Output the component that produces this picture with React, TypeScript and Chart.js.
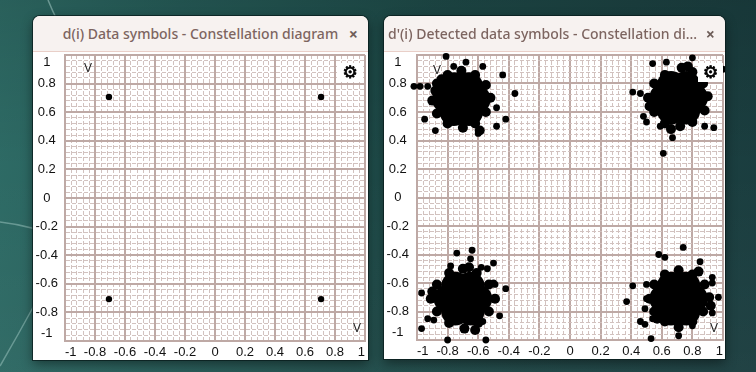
import React, { useEffect, useRef } from 'react';
import { Chart, registerables } from 'chart.js';

Chart.register(...registerables);

// ---- axis ticks (labelled every 0.2, fine grid every 0.04) ----
const TICK_VALUES = [-1, -0.8, -0.6, -0.4, -0.2, 0, 0.2, 0.4, 0.6, 0.8, 1];
const MINOR_STEP = 0.04;

// ---- d(i): transmitted data symbols ----
const sentSymbols: number[][] = [
  [-0.707, 0.707], [0.707, 0.707], [-0.707, -0.707], [0.707, -0.707],
];

// ---- d'(i): detected symbols, dense cores of the four clouds ----
const cloudCores: number[][] = [
  [-0.71, 0.69], [-0.61, 0.69], [-0.66, 0.78], [-0.76, 0.78], [-0.81, 0.69], [-0.76, 0.60], [-0.66, 0.60],
  [0.71, 0.70], [0.81, 0.70], [0.76, 0.79], [0.66, 0.79], [0.61, 0.70], [0.66, 0.61], [0.76, 0.61],
  [-0.70, -0.71], [-0.60, -0.71], [-0.65, -0.62], [-0.75, -0.62], [-0.80, -0.71], [-0.75, -0.80], [-0.65, -0.80],
  [0.71, -0.71], [0.81, -0.71], [0.76, -0.62], [0.66, -0.62], [0.61, -0.71], [0.66, -0.80], [0.76, -0.80],
];

// ---- d'(i): ragged rims of the clouds ----
const cloudRims: number[][] = [
  [-0.52, 0.70], [-0.55, 0.79], [-0.62, 0.86], [-0.71, 0.89], [-0.80, 0.86], [-0.87, 0.80],
  [-0.90, 0.68], [-0.87, 0.59], [-0.80, 0.52], [-0.70, 0.49], [-0.62, 0.52], [-0.55, 0.60],
  [-0.88, 0.75], [-0.59, 0.47], [-0.84, 0.83],
  [0.90, 0.71], [0.87, 0.80], [0.80, 0.88], [0.73, 0.91], [0.62, 0.86], [0.55, 0.80],
  [0.51, 0.70], [0.55, 0.60], [0.62, 0.52], [0.72, 0.50], [0.80, 0.53], [0.88, 0.61],
  [0.77, 0.92], [0.52, 0.64], [0.66, 0.48],
  [-0.49, -0.71], [-0.53, -0.61], [-0.61, -0.53], [-0.70, -0.50], [-0.79, -0.53], [-0.87, -0.61],
  [-0.91, -0.71], [-0.87, -0.80], [-0.79, -0.88], [-0.69, -0.92], [-0.60, -0.88], [-0.53, -0.80],
  [-0.62, -0.93], [-0.90, -0.66], [-0.66, -0.49],
  [0.91, -0.70], [0.88, -0.61], [0.80, -0.54], [0.71, -0.51], [0.62, -0.54], [0.55, -0.61],
  [0.52, -0.71], [0.55, -0.80], [0.62, -0.87], [0.71, -0.91], [0.80, -0.87], [0.87, -0.80],
  [0.92, -0.76], [0.57, -0.85], [0.84, -0.52],
];

// ---- d'(i): scattered outliers ----
const cloudOutliers: number[][] = [
  [-0.81, 0.99], [-0.76, 0.92], [-0.68, 0.95], [-0.57, 0.92], [-0.44, 0.86], [-0.36, 0.73],
  [-0.48, 0.63], [-0.42, 0.55], [-0.48, 0.50], [-1.02, 0.78], [-0.98, 0.78], [-0.93, 0.78],
  [-1.03, 0.62], [-1.03, 0.53], [-0.95, 0.55], [-0.88, 0.47], [-0.60, 0.45],
  [0.80, 0.98], [0.54, 0.94], [0.63, 0.95], [1.00, 0.90], [0.41, 0.74], [0.46, 0.73],
  [0.48, 0.57], [0.50, 0.53], [0.59, 0.50], [0.67, 0.42], [0.61, 0.31], [0.88, 0.50], [0.94, 0.49],
  [-0.74, -0.39], [-0.64, -0.37], [-0.65, -0.43], [-0.78, -0.48], [-0.58, -0.49], [-0.54, -0.50],
  [-0.50, -0.46], [-0.50, -0.60], [-0.42, -0.64], [-0.49, -0.61], [-0.97, -0.67], [-0.46, -0.83],
  [-0.57, -0.87], [-0.93, -0.85], [-0.89, -0.86], [-1.08, -0.90], [-0.97, -0.92], [-0.80, -1.00],
  [-0.55, -1.00], [-1.00, -1.06], [-0.95, -1.05],
  [0.41, -0.62], [0.50, -0.61], [0.37, -0.73], [0.50, -0.71], [0.49, -0.78], [0.46, -0.87],
  [0.49, -0.89], [0.54, -0.85], [0.53, -0.99], [0.71, -0.97], [0.80, -0.90], [0.93, -0.81],
  [0.97, -0.70], [0.93, -0.60], [0.58, -0.40], [0.62, -0.42], [0.74, -0.35], [0.85, -0.45], [0.93, -0.56],
];

const toXY = (pts: number[][]) => pts.map(([x, y]) => ({ x, y }));

const MAJOR = '#bea9a5';
const MINOR = '#d2c2bf';
const TICK_FONT = { family: '"Liberation Sans", Arial, sans-serif', size: 13, lineHeight: 1.1 };

const majorLabel = (v: number) => {
  const t = TICK_VALUES.find((t) => Math.abs(t - v) < 1e-6);
  return t === undefined ? null : t;
};
const isMajor = (v: any) => typeof v === 'number' && majorLabel(v) !== null;

function axisOptions(axis: 'x' | 'y', size: number, padding: number) {
  return {
    type: 'linear',
    min: -1,
    max: 1,
    ticks: {
      stepSize: MINOR_STEP,
      autoSkip: false,
      maxRotation: 0,
      minRotation: 0,
      padding,
      color: '#111',
      font: TICK_FONT,
      align: axis === 'x' ? 'inner' : 'center',
      crossAlign: axis === 'y' ? 'center' : 'near',
      callback: (v: number) => {
        const t = majorLabel(v);
        if (t === null) return '';
        if (axis === 'y' && t === 1) return ['', '1'];
        if (axis === 'y' && t === -1) return ['-1', ''];
        return String(t);
      },
    },
    grid: {
      drawTicks: false,
      color: (ctx: any) => (isMajor(ctx.tick && ctx.tick.value) ? MAJOR : MINOR),
      lineWidth: (ctx: any) => (isMajor(ctx.tick && ctx.tick.value) ? 2 : 1),
    },
    border: {
      display: true,
      color: MAJOR,
      width: 2,
      dash: (ctx: any) => (ctx.type === 'tick' && !isMajor(ctx.tick && ctx.tick.value) ? [4, 2] : []),
    },
    afterFit: (scale: any) => {
      if (axis === 'x') scale.height = size;
      else scale.width = size;
      scale.paddingTop = 0;
      scale.paddingBottom = 0;
      scale.paddingLeft = 0;
      scale.paddingRight = 0;
    },
  };
}

function ScatterCanvas(props: {
  width: number; height: number; datasets: any[]; yWidth: number; yPad: number; padRight: number;
}) {
  const ref = useRef<HTMLCanvasElement>(null);
  useEffect(() => {
    const chart = new Chart(ref.current as HTMLCanvasElement, {
      type: 'scatter',
      data: { datasets: props.datasets },
      options: {
        animation: false,
        responsive: false,
        maintainAspectRatio: false,
        devicePixelRatio: 1,
        layout: { autoPadding: false, padding: { top: 3, right: props.padRight, left: 0, bottom: 0 } },
        plugins: { legend: { display: false }, tooltip: { enabled: false } },
        scales: {
          x: axisOptions('x', 19, 4),
          y: axisOptions('y', props.yWidth, props.yPad),
        } as any,
      },
    });
    return () => chart.destroy();
  }, []);
  return (
    <canvas
      ref={ref}
      width={props.width}
      height={props.height}
      style={{ position: 'absolute', left: 0, top: 0, width: props.width, height: props.height }}
    />
  );
}

const vStyle = (left: number, top: number): React.CSSProperties => ({
  position: 'absolute', left, top, fontFamily: '"Liberation Sans", Arial, sans-serif',
  fontSize: 12, lineHeight: '12px', color: '#222',
});

function Gear({ left, top, width }: { left: number; top: number; width: number }) {
  return (
    <div style={{
      position: 'absolute', left, top, width, height: 19, background: '#fff',
      display: 'flex', alignItems: 'center', justifyContent: 'center',
      fontFamily: '"DejaVu Sans", sans-serif', fontSize: 17, fontWeight: 700, lineHeight: '19px', color: '#000',
      WebkitTextStroke: '0.7px #000',
    } as React.CSSProperties}>⚙</div>
  );
}

function Window(props: {
  left: number; width: number; height: number; title: string; centered: boolean; children: React.ReactNode;
}) {
  return (
    <div style={{
      position: 'absolute', left: props.left, top: 16, width: props.width, height: props.height,
      background: '#fff', borderRadius: '7px 7px 0 0', overflow: 'hidden',
      boxShadow: '0 0 0 1px rgba(8,28,28,0.75), 0 4px 12px rgba(0,0,0,0.45)',
    }}>
      <div style={{
        position: 'absolute', left: 0, top: 0, width: props.width, height: 35,
        background: '#f7f2f0', borderBottom: '1px solid #e9cfc8',
      }}>
        <div style={{
          position: 'absolute', left: props.centered ? 0 : 4, width: props.centered ? props.width : props.width - 24,
          top: 0, height: 35, lineHeight: '36px', overflow: 'hidden',
          textAlign: props.centered ? 'center' : 'left', whiteSpace: 'nowrap',
          fontFamily: '"Noto Sans", "Open Sans", sans-serif', fontSize: 14, fontWeight: 500,
          color: '#7d6560',
        }}>{props.title}</div>
        <div style={{
          position: 'absolute', right: 10, top: 0, height: 35, lineHeight: '36px',
          fontFamily: '"Noto Sans", sans-serif', fontSize: 16, fontWeight: 700, color: '#6e5e59',
        }}>×</div>
      </div>
      <div style={{ position: 'absolute', left: 0, top: 36, width: props.width, height: props.height - 36 }}>
        {props.children}
      </div>
    </div>
  );
}

export default function App() {
  const leftSets = [{
    data: toXY(sentSymbols), pointRadius: 3.2, pointHoverRadius: 3.2,
    backgroundColor: '#000', borderWidth: 0,
  }];
  const rightSets = [
    { data: toXY(cloudCores), pointRadius: 14, pointHoverRadius: 14, backgroundColor: '#000', borderWidth: 0, clip: false },
    { data: toXY(cloudRims), pointRadius: 5, pointHoverRadius: 5, backgroundColor: '#000', borderWidth: 0, clip: false },
    { data: toXY(cloudOutliers), pointRadius: 3.4, pointHoverRadius: 3.4, backgroundColor: '#000', borderWidth: 0, clip: false },
  ];
  return (
    <div style={{
      position: 'fixed', left: 0, top: 0, width: 756, height: 372, overflow: 'hidden',
      background: 'linear-gradient(to bottom, rgba(0,0,0,0.12), rgba(0,0,0,0) 45%, rgba(255,255,255,0.03)), linear-gradient(100deg, #2f6d67 0%, #265d59 22%, #1e4a48 55%, #1a3c3e 100%)',
    }}>
      <svg width={756} height={372} style={{ position: 'absolute', left: 0, top: 0 }}>
        <path d="M48 0 Q52 10 58 22" stroke="rgba(190,225,220,0.45)" strokeWidth={1.5} fill="none" />
        <path d="M0 222 Q18 224 36 229" stroke="rgba(190,225,220,0.4)" strokeWidth={1.5} fill="none" />
        <path d="M0 366 Q18 335 36 302" stroke="rgba(190,225,220,0.4)" strokeWidth={1.5} fill="none" />
      </svg>
      <Window left={33} width={335} height={344} centered={true} title="d(i) Data symbols - Constellation diagram">
        <ScatterCanvas width={335} height={308} datasets={leftSets} yWidth={32} yPad={7} padRight={3} />
        <div style={vStyle(51, 10)}>V</div>
        <div style={vStyle(320, 270)}>V</div>
        <Gear left={304} top={11} width={26} />
      </Window>
      <Window left={384} width={341} height={343} centered={false} title="d'(i) Detected data symbols - Constellation di...">
        <ScatterCanvas width={341} height={307} datasets={rightSets} yWidth={33} yPad={8} padRight={2} />
        <div style={vStyle(49, 12)}>V</div>
        <div style={vStyle(326, 270)}>V</div>
        <Gear left={314} top={11} width={25} />
      </Window>
    </div>
  );
}
